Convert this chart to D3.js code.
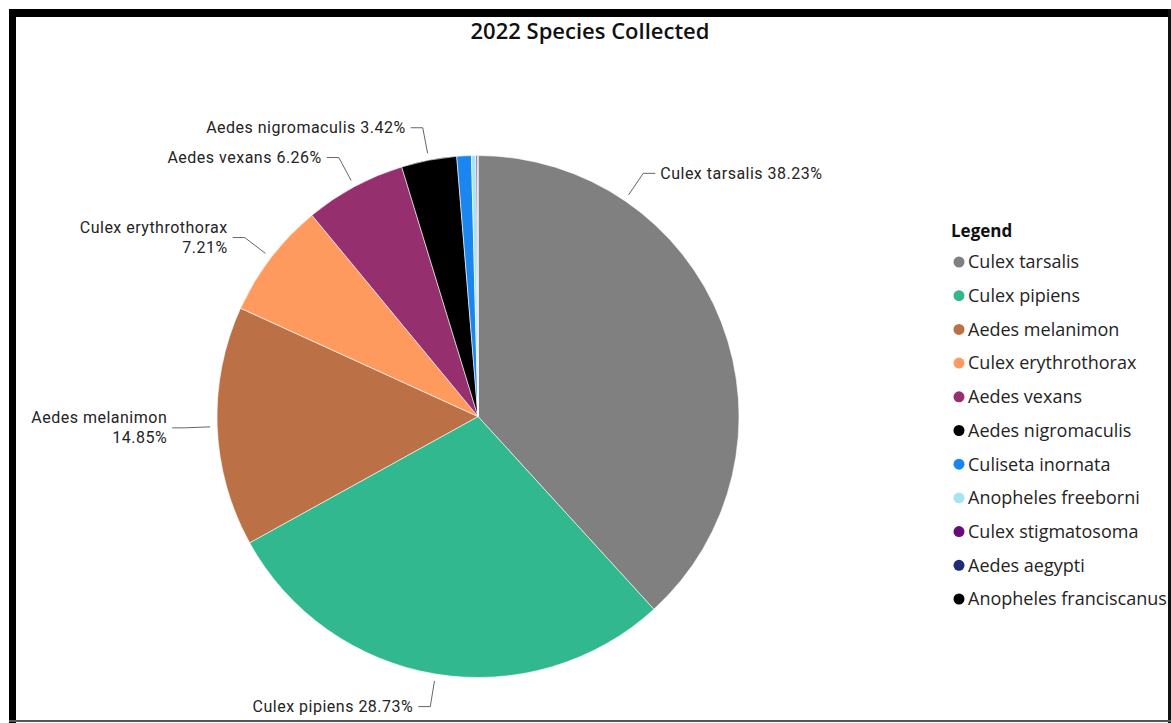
<!DOCTYPE html>
<html>
<head>
<meta charset="utf-8">
<script src="https://cdn.jsdelivr.net/npm/d3@7"></script>
<style>
  html, body { margin: 0; padding: 0; background: #fff; }
  svg { display: block; }
</style>
</head>
<body>
<div id="chart"></div>
<script>
'use strict';

// chart data
var species = ["Culex tarsalis", "Culex pipiens", "Aedes melanimon", "Culex erythrothorax",
    "Aedes vexans", "Aedes nigromaculis", "Culiseta inornata", "Anopheles freeborni",
    "Culex stigmatosoma", "Aedes aegypti", "Anopheles franciscanus"];
var shares = [38.23, 28.73, 14.85, 7.21, 6.26, 3.42, 0.90, 0.28, 0.08, 0.03, 0.01];
var sliceColors = ["#808080", "#31b88f", "#bc7046", "#fe9a5e", "#952f6d", "#000000",
    "#1b86ef", "#a6e4f2", "#6a0b7c", "#1f2c73", "#000000"];

(function() {
    var W = 1171, H = 723;
    var cx = 478, cy = 416.5, radius = 261;

    var svg = d3.select("#chart").append("svg")
        .attr("width", W)
        .attr("height", H);

    // frame round the visual (black bars top/left, thin lines right/bottom)
    svg.append("rect").attr("x", 9).attr("y", 9).attr("width", W - 9).attr("height", 8).attr("fill", "#000");
    svg.append("rect").attr("x", 9).attr("y", 9).attr("width", 7).attr("height", H - 9).attr("fill", "#000");
    svg.append("rect").attr("x", 1168).attr("y", 9).attr("width", 3).attr("height", H - 9).attr("fill", "#111");
    svg.append("rect").attr("x", 9).attr("y", 720).attr("width", W - 9).attr("height", 2).attr("fill", "#555");

    svg.append("text")
        .attr("x", 590)
        .attr("y", 39)
        .attr("text-anchor", "middle")
        .attr("font-family", "'Open Sans', sans-serif")
        .attr("font-weight", 600)
        .attr("font-size", "22px")
        .attr("fill", "#111")
        .text("2022 Species Collected");

    var data = species.map(function(s, i) { return { name: s, value: shares[i] }; });

    var color = d3.scaleOrdinal().domain(species).range(sliceColors);

    var pie = d3.pie()
        .sort(null)
        .value(function(d) { return d.value; });
    var arcs = pie(data);

    var arc = d3.arc().innerRadius(0).outerRadius(radius);

    var g = svg.append("g").attr("transform", "translate(" + cx + "," + cy + ")");

    g.selectAll("path.slice")
        .data(arcs)
        .enter()
        .append("path")
        .attr("class", "slice")
        .attr("d", arc)
        .attr("fill", function(d) { return color(d.data.name); })
        .attr("stroke", "#ffffff")
        .attr("stroke-width", 0.6);

    // data labels: only the six big slices get one
    var labelled = arcs.slice(0, 6);
    var twoLine = { "Culex erythrothorax": true, "Aedes melanimon": true };
    // Power BI nudged the tarsalis label up the slice
    var angleOverride = { "Culex tarsalis": 34.2 * Math.PI / 180 };

    var r1 = radius + 7, r2 = radius + 33, hLen = 12, gap = 5;

    var lbl = g.selectAll("g.lbl")
        .data(labelled)
        .enter()
        .append("g")
        .attr("class", "lbl");

    lbl.each(function(d) {
        var sel = d3.select(this);
        var a = angleOverride[d.data.name] !== undefined ? angleOverride[d.data.name] : (d.startAngle + d.endAngle) / 2;
        var x1 = r1 * Math.sin(a), y1 = -r1 * Math.cos(a);
        var x2 = r2 * Math.sin(a), y2 = -r2 * Math.cos(a);
        var right = Math.sin(a) > 0;
        var x3 = x2 + (right ? hLen : -hLen);

        sel.append("polyline")
            .attr("points", [[x1, y1], [x2, y2], [x3, y2]].map(function(p) { return p.join(","); }).join(" "))
            .attr("fill", "none")
            .attr("stroke", "#666")
            .attr("stroke-width", 1);

        var pct = d.data.value.toFixed(2) + "%";
        var tx = x3 + (right ? gap : -gap);
        var t = sel.append("text")
            .attr("x", tx)
            .attr("text-anchor", right ? "start" : "end")
            .attr("font-family", "Roboto, sans-serif")
            .attr("font-size", "16px")
            .attr("letter-spacing", "0.5px")
            .attr("fill", "#252423");

        if (twoLine[d.data.name]) {
            t.append("tspan").attr("x", tx).attr("y", y2 - 10).attr("dy", "0.35em").text(d.data.name);
            t.append("tspan").attr("x", tx).attr("y", y2 + 10).attr("dy", "0.35em").text(pct);
        } else {
            t.attr("y", y2).attr("dy", "0.35em").text(d.data.name + " " + pct);
        }
    });

    // legend
    var legend = svg.append("g").attr("transform", "translate(951,0)");
    legend.append("text")
        .attr("x", 0)
        .attr("y", 231)
        .attr("dy", "0.35em")
        .attr("font-family", "'Open Sans', sans-serif")
        .attr("font-weight", 700)
        .attr("font-size", "17px")
        .attr("fill", "#111")
        .text("Legend");

    var rowY = d3.scalePoint().domain(species).range([262, 599]);

    var item = legend.selectAll("g.item")
        .data(species)
        .enter()
        .append("g")
        .attr("class", "item")
        .attr("transform", function(s) { return "translate(0," + rowY(s) + ")"; });

    item.append("circle")
        .attr("cx", 8)
        .attr("cy", 0)
        .attr("r", 5.5)
        .attr("fill", function(s) { return color(s); });

    item.append("text")
        .attr("x", 17)
        .attr("y", 0)
        .attr("dy", "0.35em")
        .attr("font-family", "'Open Sans', sans-serif")
        .attr("font-size", "18px")
        .attr("fill", "#252423")
        .text(function(s) { return s; });
})();
</script>
</body>
</html>
